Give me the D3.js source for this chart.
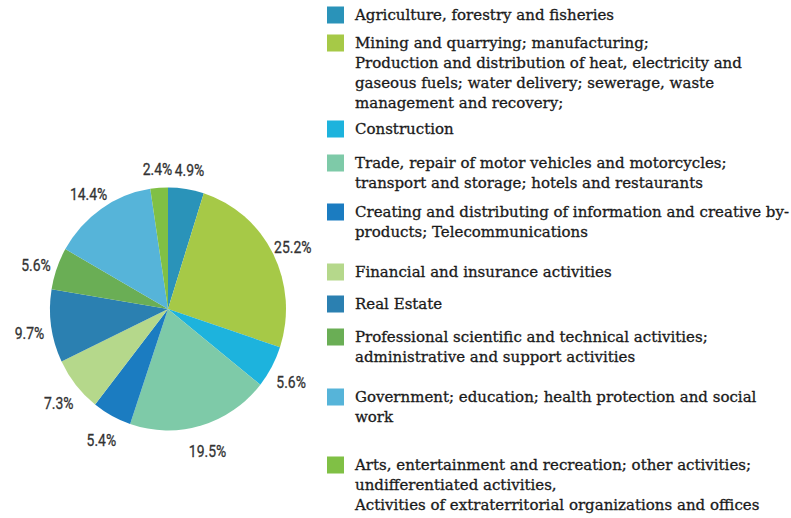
<!DOCTYPE html>
<html><head><meta charset="utf-8">
<script src="https://cdn.jsdelivr.net/npm/d3@7"></script>
<style>body{margin:0;background:#fff}svg{display:block}</style>
</head><body><svg id="c" width="791" height="518"></svg>
<script>
const categories = [
  ["Agriculture, forestry and fisheries"],
  ["Mining and quarrying; manufacturing;","Production and distribution of heat, electricity and","gaseous fuels; water delivery; sewerage, waste","management and recovery;"],
  ["Construction"],
  ["Trade, repair of motor vehicles and motorcycles;","transport and storage; hotels and restaurants"],
  ["Creating and distributing of information and creative by-","products; Telecommunications"],
  ["Financial and insurance activities"],
  ["Real Estate"],
  ["Professional scientific and technical activities;","administrative and support activities"],
  ["Government; education; health protection and social","work"],
  ["Arts, entertainment and recreation; other activities;","undifferentiated activities,","Activities of extraterritorial organizations and offices"]
];
const values = [4.9, 25.2, 5.6, 19.5, 5.4, 7.3, 9.7, 5.6, 14.4, 2.4];
const labels = ["4.9%","25.2%","5.6%","19.5%","5.4%","7.3%","9.7%","5.6%","14.4%","2.4%"];
const colors = ["#2a93b9","#a6c947","#1db3dd","#7ecaa8","#1b7cc1","#b5d88b","#2b80b1","#6aae55","#56b4d9","#80c045"];
const legendY = [15, 43, 129, 163, 212, 272, 304, 337, 397, 465];

const svg = d3.select("#c");
const cx = 168, cy = 309, r = 118;
const g = svg.append("g").attr("transform", `translate(${cx},${cy}) scale(1,1.03)`);
const pie = d3.pie().sort(null).value(d => d)(values);
const arc = d3.arc().innerRadius(0).outerRadius(r);
g.selectAll("path").data(pie).join("path")
  .attr("d", arc).attr("fill", (d,i) => colors[i]);
const larc = d3.arc().innerRadius(140).outerRadius(140);
svg.append("g").attr("transform", `translate(${cx},${cy})`)
  .selectAll("text").data(pie).join("text")
  .attr("transform", d => `translate(${larc.centroid(d)[0]},${larc.centroid(d)[1]*1.03 + 4}) scale(0.82,1)`)
  .attr("dy","0.35em").attr("text-anchor","middle")
  .attr("font-family","'Liberation Sans Narrow','Roboto',sans-serif")
  .attr("font-size", 17).attr("fill","#333").attr("stroke","#333").attr("stroke-width",0.3)
  .text((d,i) => labels[i]);

const lg = svg.append("g");
categories.forEach((lines, i) => {
  const y = legendY[i];
  lg.append("rect").attr("x", 327).attr("y", y - 8.5).attr("width", 17).attr("height", 17).attr("fill", colors[i]);
  const t = lg.append("text").attr("x", 355).attr("y", y + 5)
    .attr("font-family","'DejaVu Serif',serif")
    .attr("font-size", 15).attr("fill","#1a1a1a").attr("stroke","#1a1a1a").attr("stroke-width",0.3);
  lines.forEach((s, j) => t.append("tspan").attr("x", 355).attr("dy", j ? 20 : 0).text(s));
});
</script></body></html>
